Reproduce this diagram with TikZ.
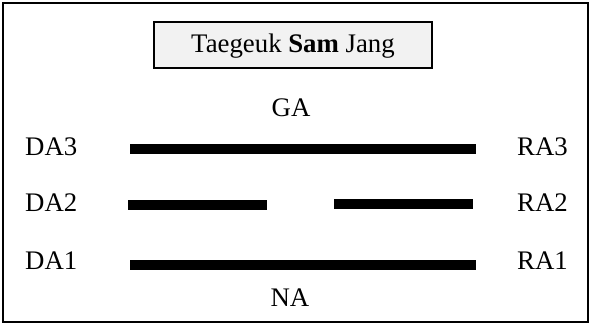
\documentclass[tikz,border=0pt]{standalone}
\usepackage{fontspec}
\setmainfont{Liberation Serif}
\begin{document}
\begin{tikzpicture}[x=1pt,y=-1pt,
  lbl/.style={inner sep=0pt,font=\fontsize{26.8}{30}\selectfont},
  bar/.style={line width=10.5pt,line cap=butt},
  frame/.style={draw=black,line width=1.8pt}]
\useasboundingbox (0,0) rectangle (591,325);
\draw[frame] (3,3) rectangle (588,322);
\draw[line width=1.5pt,fill=black!5] (154,22) rectangle (432,68);
\node[lbl,anchor=base] (title) at (293,52) {Taegeuk \textbf{Sam} Jang};
\node[lbl,anchor=base] (ga) at (291,116) {GA};
\node[lbl,anchor=base] (na) at (290,306.5) {NA};
\node[lbl,anchor=base west] (da3) at (25,155) {DA3};
\node[lbl,anchor=base west] (da2) at (25,211.5) {DA2};
\node[lbl,anchor=base west] (da1) at (25,269) {DA1};
\node[lbl,anchor=base west] (ra3) at (517,155) {RA3};
\node[lbl,anchor=base west] (ra2) at (517,211.5) {RA2};
\node[lbl,anchor=base west] (ra1) at (517,269) {RA1};
\draw[bar] (130,149) -- (476,149);
\draw[bar] (128,205) -- (267,205);
\draw[bar] (334,204) -- (473,204);
\draw[bar] (130,265) -- (476,265);
\end{tikzpicture}
\end{document}
